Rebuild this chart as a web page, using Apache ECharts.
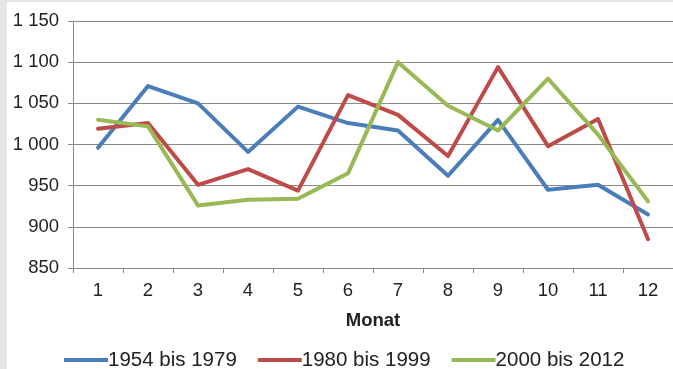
<!DOCTYPE html>
<html><head><meta charset="utf-8">
<script src="https://cdn.jsdelivr.net/npm/echarts@6/dist/echarts.min.js"></script>
<style>
html,body{margin:0;padding:0;background:#e6e6e8;}
#wrap{position:absolute;left:7px;top:2px;width:666px;height:367px;background:#fff;}
#c{position:absolute;left:0;top:0;width:673px;height:369px;}
</style></head>
<body><div id="wrap"></div><div id="c"></div>
<script>
const months = ['1','2','3','4','5','6','7','8','9','10','11','12'];
const seriesNames = ['1954 bis 1979','1980 bis 1999','2000 bis 2012'];
const s1954 = [996,1071,1050,991,1046,1026,1017,962,1030,945,951,915];
const s1980 = [1019,1026,951,970,944,1060,1036,986,1094,998,1031,885];
const s2000 = [1030,1022,926,933,934,965,1100,1047,1017,1080,1012,931];
const colors = ['#4a7ebb','#be4b48','#98b954'];
const yTicks = [850,900,950,1000,1050,1100,1150];

const chart = echarts.init(document.getElementById('c'), null, {renderer:'canvas'});
const fmt = v => { const s=String(v); return s.length>3 ? s.slice(0,s.length-3)+' '+s.slice(-3) : s; };
const mk = (name, data, i) => ({
  name, type:'line', data, symbol:'none', smooth:false,
  lineStyle:{width:4, color:colors[i], cap:'round', join:'round'},
  itemStyle:{color:colors[i]}
});
const FF = 'Liberation Sans, Arial, sans-serif';
chart.setOption({
  backgroundColor:'transparent',
  animation:false,
  textStyle:{fontFamily:FF},
  grid:{left:73, right:0, top:21, bottom:101, containLabel:false},
  legend:{
    data:seriesNames, top:349, left:64, padding:0,
    itemWidth:44, itemHeight:4, itemGap:21,
    icon:'rect',
    textStyle:{fontSize:20.5, lineHeight:22, color:'#222', fontFamily:FF, padding:[0,0,0,-5]}
  },
  xAxis:{
    type:'category', data:months, boundaryGap:true,
    name:'Monat', nameLocation:'middle', nameGap:43,
    nameTextStyle:{fontSize:18.5, fontWeight:'bold', color:'#222'},
    axisLine:{lineStyle:{color:'#8a8a8a', width:1}},
    axisTick:{show:true, length:5, lineStyle:{color:'#8a8a8a'}},
    axisLabel:{fontSize:18.5, color:'#222', margin:13}
  },
  yAxis:{
    type:'value', min:850, max:1150, interval:50,
    axisLine:{show:true, lineStyle:{color:'#8a8a8a', width:1}},
    axisTick:{show:true, length:5, lineStyle:{color:'#8a8a8a'}},
    splitLine:{show:true, lineStyle:{color:'#8a8a8a', width:1.2}},
    axisLabel:{fontSize:18.5, color:'#222', margin:14, formatter: v => yTicks.includes(v) ? fmt(v) : ''}
  },
  series:[mk(seriesNames[0], s1954, 0), mk(seriesNames[1], s1980, 1), mk(seriesNames[2], s2000, 2)]
});
</script></body></html>
